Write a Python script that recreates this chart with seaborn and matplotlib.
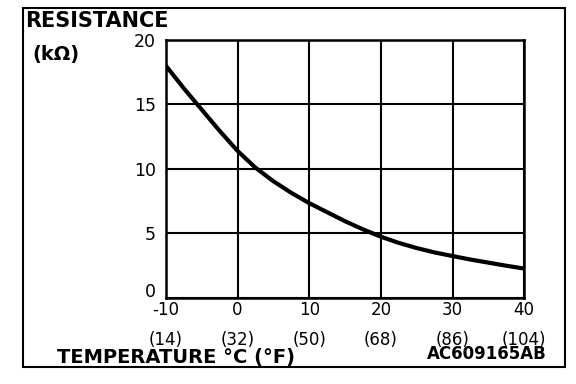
import numpy as np
import pandas as pd
import seaborn as sns
import matplotlib.pyplot as plt
from matplotlib.patches import Rectangle
from matplotlib.transforms import ScaledTranslation

# Values
temp_c = [-10, -7.5, -5, -2.5, 0, 2.5, 5, 7.5, 10, 12.5, 15, 17.5, 20,
          22.5, 25, 27.5, 30, 32.5, 35, 37.5, 40]
resistance = [18.0, 16.25, 14.6, 12.95, 11.4, 10.1, 9.05, 8.15, 7.35, 6.65, 5.95,
              5.32, 4.75, 4.27, 3.87, 3.53, 3.25, 2.98, 2.74, 2.5, 2.28]
xticks_c = [-10, 0, 10, 20, 30, 40]
xticks_f = [14, 32, 50, 68, 86, 104]
yticks = [0, 5, 10, 15, 20]

data = pd.DataFrame({'Temperature': temp_c, 'Resistance': resistance})

sns.set_style('white')
plt.rcParams['font.family'] = ['DejaVu Sans']
plt.rcParams['text.color'] = 'black'
plt.rcParams['xtick.color'] = 'black'
plt.rcParams['ytick.color'] = 'black'

fig = plt.figure(figsize=(5.76, 3.84), dpi=100)
ax = fig.add_axes([0.288, 0.224, 0.622, 0.672])

sns.lineplot(data=data, x='Temperature', y='Resistance', color='black',
             linewidth=3, ax=ax)

ax.set_xlim(-10, 40)
ax.set_ylim(0, 20)
ax.set_xticks(xticks_c)
ax.set_xticklabels([f'{c}\n({f})' for c, f in zip(xticks_c, xticks_f)],
                   fontsize=12, linespacing=1.85)
ax.set_yticks(yticks)
ax.set_yticklabels([str(v) for v in yticks], fontsize=12.5)
ax.tick_params(length=0, pad=2)
ax.tick_params(axis='y', pad=7)
ax.grid(True, color='black', linewidth=1.5)
for s in ax.spines.values():
    s.set_visible(True)
    s.set_color('black')
    s.set_linewidth(1.8)
ax.set_xlabel('')
ax.set_ylabel('')

# the "0" label sits a little above the bottom axis line
zero_lbl = ax.get_yticklabels()[0]
zero_lbl.set_transform(zero_lbl.get_transform() + ScaledTranslation(0, 8 / 100, fig.dpi_scale_trans))

# outer frame and labels
fig.patches.append(Rectangle((0.040, 0.044), 0.941, 0.935, transform=fig.transFigure,
                             fill=False, edgecolor='black', linewidth=1.5))
fig.text(0.043, 0.929, 'RESISTANCE', fontsize=15, fontweight='bold', va='baseline')
fig.text(0.057, 0.845, '(kΩ)', fontsize=14, fontweight='bold', va='baseline')
fig.text(0.099, 0.055, 'TEMPERATURE °C (°F)', fontsize=14, fontweight='bold', va='baseline')
fig.text(0.741, 0.066, 'AC609165AB', fontsize=12, fontweight='bold', va='baseline')

fig.savefig('out.png', dpi=100)
